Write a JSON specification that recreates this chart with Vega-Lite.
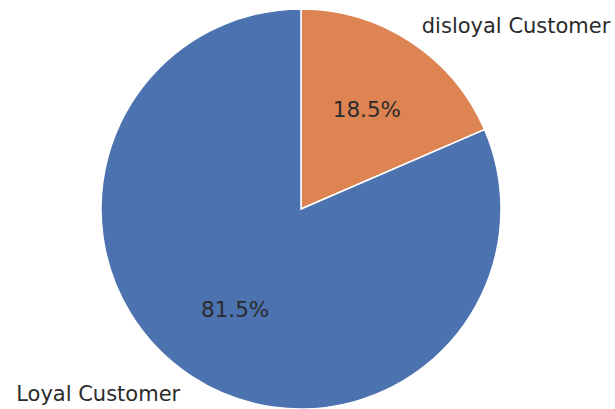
{
  "$schema": "https://vega.github.io/schema/vega-lite/v6.json",
  "width": 602,
  "height": 400,
  "autosize": "none",
  "padding": {"left": 0, "top": 9, "right": 13, "bottom": 0},
  "background": "white",
  "config": {"view": {"stroke": null}},
  "data": {
    "values": [
      {"segment": "disloyal Customer", "share": 18.5, "pct": "18.5%", "side": "left"},
      {"segment": "Loyal Customer", "share": 81.5, "pct": "81.5%", "side": "right"}
    ]
  },
  "encoding": {
    "theta": {"field": "share", "type": "quantitative", "stack": true},
    "order": {"field": "share", "type": "quantitative", "sort": "ascending"}
  },
  "layer": [
    {
      "mark": {"type": "arc", "stroke": "white", "strokeWidth": 1.5},
      "encoding": {
        "color": {
          "field": "segment",
          "type": "nominal",
          "scale": {"domain": ["disloyal Customer", "Loyal Customer"], "range": ["#dd8452", "#4c72b0"]},
          "legend": null
        }
      }
    },
    {
      "mark": {"type": "text", "radius": 120, "dy": 2, "font": "DejaVu Sans", "fontSize": 21.5, "color": "#2b2b2b"},
      "encoding": {"text": {"field": "pct", "type": "nominal"}}
    },
    {
      "mark": {"type": "text", "radius": 220, "dy": 2, "align": {"expr": "datum.side"}, "font": "DejaVu Sans", "fontSize": 21, "color": "#2b2b2b"},
      "encoding": {"text": {"field": "segment", "type": "nominal"}}
    }
  ]
}
